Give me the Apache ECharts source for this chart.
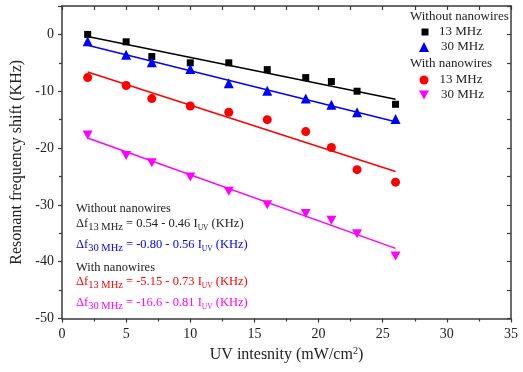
<!DOCTYPE html>
<html><head><meta charset="utf-8">
<script src="https://cdn.jsdelivr.net/npm/echarts@6/dist/echarts.min.js"></script>
<style>html,body{margin:0;padding:0;background:#fff}#c{width:523px;height:372px}</style>
</head><body><div id="c"></div>
<script>
// ---- data ----
const xValues = [2, 5, 7, 10, 13, 16, 19, 21, 23, 26];
const without13 = [0, -1.3, -3.9, -5.0, -5.0, -6.2, -7.6, -8.3, -10.0, -12.3];
const without30 = [-1.2, -3.6, -4.9, -6.1, -8.6, -9.9, -11.3, -12.4, -13.7, -14.9];
const with13 = [-7.6, -9.0, -11.3, -12.6, -13.7, -15.0, -17.1, -19.9, -23.8, -26.0];
const with30 = [-17.7, -21.3, -22.6, -25.1, -27.6, -30.0, -31.5, -32.7, -35.1, -39.0];
const fitX = [2, 26];
const fitWithout13 = [-0.38, -11.42];
const fitWithout30 = [-1.92, -15.36];
const fitWith13 = [-6.61, -24.13];
const fitWith30 = [-18.22, -37.66];
const xTicks = [0, 5, 10, 15, 20, 25, 30, 35];
const yTicks = [-50, -40, -30, -20, -10, 0];

const C_BLACK = '#000000', C_BLUE = '#0000ff', C_RED = '#ff0000', C_MAG = '#ff00ff';
const FONT = '"Liberation Serif", "Times New Roman", serif';
const AX = '#3a3a3a';
const DOWN_TRI = 'path://M0,0L10,0L5,9Z';

function pairs(xs, ys) { return xs.map((x, i) => [x, ys[i]]); }

const chart = echarts.init(document.getElementById('c'), null, {renderer: 'canvas'});

const baseAxisLine = {show: true, onZero: false, lineStyle: {color: AX, width: 1.5}};

function legendItem(name, label, left, top, w, h, pad) {
  return {data: [{name: name}], formatter: () => label, left: left, top: top, padding: 0,
    itemWidth: w, itemHeight: h, symbolKeepAspect: true,
    textStyle: {fontFamily: FONT, fontSize: 13, color: '#222', padding: [0, 0, 0, pad]}};
}

const option = {
  animation: false,
  backgroundColor: '#fff',
  grid: {left: 62, right: 12, top: 6, bottom: 53.5, containLabel: false},
  xAxis: [
    {
      type: 'value', min: xTicks[0], max: xTicks[xTicks.length - 1], interval: 5, position: 'bottom',
      axisLine: baseAxisLine,
      axisTick: {show: true, inside: false, length: 4, lineStyle: {color: AX, width: 1.2}},
      minorTick: {show: true, splitNumber: 2, length: 3, lineStyle: {color: AX, width: 1.2}},
      splitLine: {show: false},
      axisLabel: {color: '#222', fontFamily: FONT, fontSize: 14, margin: 9},
      name: 'UV intesnity (mW/cm{sup|2})', nameLocation: 'middle', nameGap: 25,
      nameTextStyle: {color: '#222', fontFamily: FONT, fontSize: 16,
        rich: {sup: {fontSize: 10, fontFamily: FONT, color: '#222', verticalAlign: 'top', lineHeight: 10}}}
    },
    {
      type: 'value', min: 0, max: 35, interval: 2.5, position: 'top',
      axisLine: baseAxisLine,
      axisTick: {show: true, inside: true, length: 4, lineStyle: {color: AX, width: 1.2}},
      axisLabel: {show: false}, splitLine: {show: false}
    }
  ],
  yAxis: [
    {
      type: 'value', min: yTicks[0], max: 5, interval: 10, position: 'left',
      axisLine: baseAxisLine,
      axisTick: {show: true, inside: false, length: 4, lineStyle: {color: AX, width: 1.2}},
      minorTick: {show: true, splitNumber: 2, length: 3, lineStyle: {color: AX, width: 1.2}},
      splitLine: {show: false},
      axisLabel: {color: '#222', fontFamily: FONT, fontSize: 14, margin: 8, showMaxLabel: false},
      name: 'Resonant frequency shift (KHz)', nameLocation: 'middle', nameGap: 32,
      nameTextStyle: {color: '#222', fontFamily: FONT, fontSize: 16}
    },
    {
      type: 'value', min: -50, max: 5, interval: 5, position: 'right',
      axisLine: baseAxisLine,
      axisTick: {show: true, inside: true, length: 4, lineStyle: {color: AX, width: 1.2}},
      axisLabel: {show: false}, splitLine: {show: false}
    }
  ],
  legend: [
    legendItem('w13', '13 MHz', 421.5, 25.5, 7, 7, 5.5),
    legendItem('w30', '30 MHz', 419, 40.5, 10, 10, 7),
    legendItem('n13', '13 MHz', 419.5, 73.5, 9, 9, 6),
    legendItem('n30', '30 MHz', 419, 88.5, 10, 10, 7)
  ],
  series: [
    {name: 'fw13', type: 'line', data: pairs(fitX, fitWithout13), showSymbol: false, z: 2,
      lineStyle: {color: C_BLACK, width: 1.5}, silent: true},
    {name: 'fw30', type: 'line', data: pairs(fitX, fitWithout30), showSymbol: false, z: 2,
      lineStyle: {color: C_BLUE, width: 1.5}, silent: true},
    {name: 'fn13', type: 'line', data: pairs(fitX, fitWith13), showSymbol: false, z: 2,
      lineStyle: {color: C_RED, width: 1.5}, silent: true},
    {name: 'fn30', type: 'line', data: pairs(fitX, fitWith30), showSymbol: false, z: 2,
      lineStyle: {color: C_MAG, width: 1.5}, silent: true},
    {name: 'w13', type: 'scatter', data: pairs(xValues, without13), symbol: 'rect', symbolSize: 7, z: 3,
      itemStyle: {color: C_BLACK, opacity: 1}},
    {name: 'w30', type: 'scatter', data: pairs(xValues, without30), symbol: 'triangle', symbolSize: 10, z: 3,
      itemStyle: {color: C_BLUE, opacity: 1}},
    {name: 'n13', type: 'scatter', data: pairs(xValues, with13), symbol: 'circle', symbolSize: 9, z: 3,
      itemStyle: {color: C_RED, opacity: 1}},
    {name: 'n30', type: 'scatter', data: pairs(xValues, with30), symbol: DOWN_TRI, symbolSize: [10, 9], z: 3,
      itemStyle: {color: C_MAG, opacity: 1}}
  ],
  graphic: []
};

function eqRich(color) {
  return {
    m: {fontFamily: FONT, fontSize: 12.5, fill: color, lineHeight: 18, verticalAlign: 'middle'},
    s: {fontFamily: FONT, fontSize: 10.5, fill: color, lineHeight: 10, verticalAlign: 'bottom'},
    u: {fontFamily: FONT, fontSize: 7.5, fill: color, lineHeight: 9, verticalAlign: 'bottom'}
  };
}
function headerText(txt, x, y, size) {
  return {type: 'text', left: x, top: y - 7, z: 10,
    style: {text: txt, fill: '#222', font: size + 'px ' + FONT}};
}
function eqText(sub, rest, color, x, y) {
  return {type: 'text', left: x, top: y - 7, z: 10,
    style: {text: '{m|Δf}{s|' + sub + '}{m| = ' + rest + ' I}{u|UV}{m| (KHz)}', fill: color, rich: eqRich(color)}};
}
option.graphic = [
  headerText('Without nanowires', 410, 17, 13),
  headerText('With nanowires', 410, 64, 13),
  headerText('Without nanowires', 76, 209, 12.5),
  eqText('13 MHz', '0.54 - 0.46', '#222', 76, 224),
  eqText('30 MHz', '-0.80 - 0.56', C_BLUE, 76, 245),
  headerText('With nanowires', 76, 268, 12.5),
  eqText('13 MHz', '-5.15 - 0.73', C_RED, 76, 282),
  eqText('30 MHz', '-16.6 - 0.81', C_MAG, 76, 303)
];

chart.setOption(option);
</script>
</body></html>
